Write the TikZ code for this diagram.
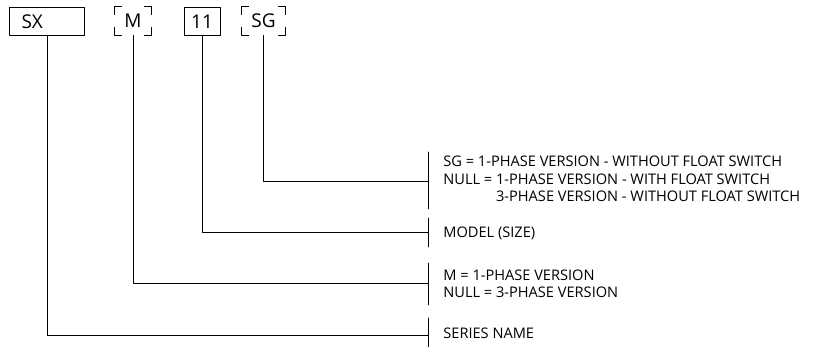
\documentclass[tikz,border=0pt]{standalone}
\usepackage{fontspec}
\setmainfont{Open Sans}
\begin{document}
\begin{tikzpicture}[x=1pt,y=-1pt,font=\fontsize{14.6}{17.5}\selectfont,line join=round,line cap=round,line width=0.8pt,
	code/.style={inner sep=0pt,minimum height=28pt,font=\fontsize{19}{19}\selectfont},
	full/.style={code,draw},
	note/.style={anchor=west,inner sep=0pt,align=left}]
			\useasboundingbox (0,0) rectangle (815,347);
			% type code
			\node[full,minimum width=75.5pt] (sx) at (47,21.5) {\makebox[51pt][l]{SX}};
			\node[code,minimum width=36pt] (m) at (133,21) {M};
			\node[full,minimum width=36pt] (size) at (202,21.5) {11};
			\node[code,minimum width=43pt] (sg) at (263.5,21) {SG};
			\foreach \n in {m,sg}
			\foreach \c/\dx/\dy in {north west/7/8,north east/-7/8,south west/7/-8,south east/-7/-8}
			\draw (\n.\c)+(\dx,0) -- (\n.\c) -- +(0,\dy);
			% legend
			\path
			(428,181) coordinate (sgend)
			(428,232) coordinate (sizeend)
			(428,283) coordinate (mend)
			(428,335) coordinate (sxend)
			;
			\foreach \p/\a/\b in {sgend/152/209,sizeend/218/247,mend/263/305,sxend/318/347}
			\draw (\p |- 0,\a) -- (\p |- 0,\b);
			\foreach \n in {sx,m,size,sg}
			\draw (\n) |- (\n end);
			\node[note] (sgtext) at (443,179) {SG = 1-PHASE VERSION - WITHOUT FLOAT SWITCH\\
				NULL = 1-PHASE VERSION - WITH FLOAT SWITCH\\
				\hphantom{NULL = }3-PHASE VERSION - WITHOUT FLOAT SWITCH};
			\node[note] (sizetext) at (443,233) {MODEL (SIZE)};
			\node[note] (mtext) at (443,284) {M = 1-PHASE VERSION\\NULL = 3-PHASE VERSION};
			\node[note] (sxtext) at (443,333) {SERIES NAME};
		\end{tikzpicture}
\end{document}
